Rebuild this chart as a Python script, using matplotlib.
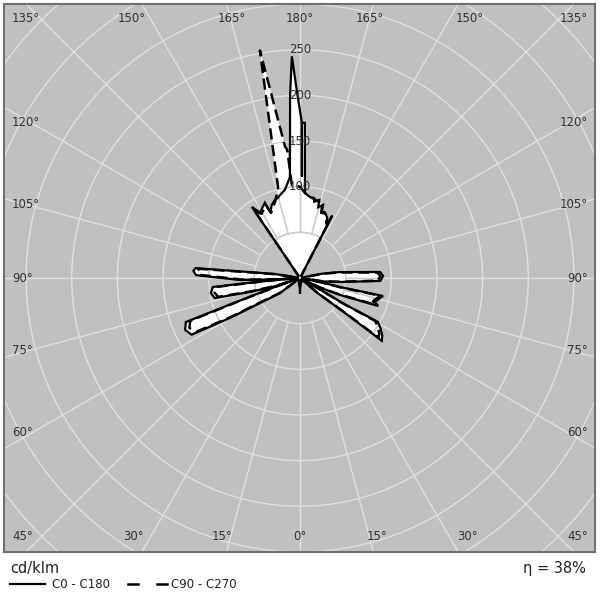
import numpy as np
import matplotlib.pyplot as plt
from matplotlib.patches import Circle, Polygon

# Luminous intensity, cd/klm, against gamma angle (0 = straight down)
# C0 plane (right half)
c0_gamma = [0, 3, 20, 45, 49, 49.5, 52.1, 52.5, 55, 58, 60.6, 59.5, 60, 61,
            64, 64.5, 67, 70.3, 72.3, 77.8, 77.3, 78.5, 80,
            82, 81.5, 84.3, 87.9, 91.4, 94.3, 98.5, 101, 102,
            150, 152.2, 152.7, 153.0, 156.1, 159.3, 161.6, 162.5, 165.6, 166.1,
            169.4, 170.2, 173.0, 176.6, 177.2, 178.2, 179.3, 178.9, 179.3]
c0_cd = [16, 4, 2, 3, 3, 25, 62, 113, 110, 104, 98, 55, 28, 3,
         3, 25, 47, 91, 86, 93, 45, 25, 3,
         3, 25, 44, 88, 91, 88, 44, 25, 3,
         3, 5, 77, 65, 73, 77, 76, 84, 80, 88,
         85, 89, 89.5, 93, 111, 170, 170, 111, 170]

# C180 plane (left half)
c180_gamma = [0, 3, 40, 52, 53, 58, 60.3, 62.4, 65.7, 68.9, 69.3, 70.5, 71,
              72, 71.5, 74.4, 76.8, 80.4, 84.1, 84.6, 85.5, 86,
              86.5, 86.8, 88.1, 91.6, 93.8, 95.4, 96.5, 99, 100,
              145, 145.9, 148.4, 155.0, 155.6, 159.0, 162.2, 164.6, 166.5, 170.3,
              174.3, 176.9, 177.9, 179.1]
c180_cd = [16, 4, 3, 3, 28, 52, 88, 134, 138, 134, 80, 28, 3,
           3, 28, 57, 96, 99, 96, 55, 25, 3,
           3, 28, 66, 114, 117, 115, 60, 28, 3,
           3, 94, 84, 91, 79, 86, 90, 91, 93.5, 98,
           111, 201, 243, 203]

# C90 plane (right half)
c90_gamma = [0, 30, 49, 49.5, 52.3, 52.8, 55, 58, 60.3, 59.3, 59.8, 60.8,
             64, 64.8, 67.3, 70.5, 72.5, 77.5, 77, 78.3, 79.5,
             81.5, 81.8, 84.5, 88, 91.4, 94, 98.2, 100.5, 101.5,
             150, 152.7, 154, 156.5, 159, 162, 163, 166, 170, 174, 177, 180]
c90_cd = [10, 3, 3, 25, 60, 108, 106, 100, 95, 53, 27, 3,
          3, 25, 46, 88, 84, 90, 44, 25, 3,
          3, 25, 43, 85, 88, 85, 43, 25, 3,
          3, 74, 66, 72, 76, 75, 83, 86, 88, 90, 94, 100]

# C270 plane (left half)
c270_gamma = [0, 40, 52.5, 53.3, 58.3, 60.5, 62.6, 65.7, 68.7, 69.1, 70.2, 70.7,
              71.5, 71.8, 74.7, 77, 80.4, 83.9, 84.4, 85.3, 85.8,
              86.5, 87, 88.3, 91.8, 93.8, 95.2, 96.3, 98.8, 99.8,
              145, 146, 149, 155, 156, 162, 166.4, 170.0, 173.5, 174.3, 175, 180]
c270_cd = [10, 3, 3, 27, 50, 85, 128, 133, 129, 78, 27, 3,
           3, 27, 55, 92, 95, 92, 53, 25, 3,
           3, 27, 63, 110, 113, 111, 58, 27, 3,
           3, 90, 82, 88, 78, 88, 102, 253, 145, 141, 102, 100]

ring_values = [50, 100, 150, 200, 250, 300, 350, 400, 450]
ring_labels = [100, 150, 200, 250]
spoke_angles = np.arange(0, 360, 15)

efficiency = 38

BG = '#c0c0c0'
GRID = '#e0e0e0'
GRID_IN = '#cccccc'
TXT = '#333333'


def to_xy(gamma, cd, side):
    g = np.radians(np.asarray(gamma, dtype=float))
    cd = np.asarray(cd, dtype=float)
    return side * cd * np.sin(g), -cd * np.cos(g)


def closed_curve(g_right, i_right, g_left, i_left):
    xr, yr = to_xy(g_right, i_right, 1)
    xl, yl = to_xy(g_left[::-1], i_left[::-1], -1)
    return np.column_stack([np.concatenate([xr, xl]), np.concatenate([yr, yl])])


fig = plt.figure(figsize=(6, 6), dpi=100)
# plot box in pixels: x 4..595, y 4..552 ; centre at (300, 278), 0.913 px per cd/klm
S = 0.913
ax = fig.add_axes([4 / 600, 48 / 600, 591 / 600, 548 / 600])
ax.set_xlim(-(300 - 4) / S, (595 - 300) / S)
ax.set_ylim(-(552 - 278) / S, (278 - 4) / S)
ax.set_facecolor(BG)
ax.set_xticks([])
ax.set_yticks([])
for sp in ax.spines.values():
    sp.set_color('#707070')
    sp.set_linewidth(1.5)


def draw_grid(color, zorder, clip=None):
    arts = []
    for r in ring_values:
        c = Circle((0, 0), r, fill=False, ec=color, lw=1.0, zorder=zorder)
        ax.add_patch(c)
        arts.append(c)
    for a in spoke_angles:
        t = np.radians(a)
        ln, = ax.plot([50 * np.sin(t), 600 * np.sin(t)], [-50 * np.cos(t), -600 * np.cos(t)],
                      color=color, lw=1.0, zorder=zorder)
        arts.append(ln)
    if clip is not None:
        for art in arts:
            art.set_clip_path(clip)


draw_grid(GRID, 1)

solid = closed_curve(c0_gamma, c0_cd, c180_gamma, c180_cd)
dashed = closed_curve(c90_gamma, c90_cd, c270_gamma, c270_cd)

for pts in (solid, dashed):
    poly = Polygon(pts, closed=True, fc='white', ec='none', zorder=2)
    ax.add_patch(poly)
    draw_grid(GRID_IN, 3, clip=poly)

sx = np.append(solid[:, 0], solid[0, 0])
sy = np.append(solid[:, 1], solid[0, 1])
dx = np.append(dashed[:, 0], dashed[0, 0])
dy = np.append(dashed[:, 1], dashed[0, 1])
ax.plot(sx, sy, color='black', lw=1.6, solid_joinstyle='miter', zorder=4)
ax.plot(dx, dy, color='black', lw=1.8, linestyle=(0, (4.5, 2.2)), zorder=5)

for v in ring_labels:
    ax.text(0, v, str(v), ha='center', va='center', fontsize=8.5, color=TXT, zorder=6)

# gamma labels around the frame (pixel positions)
top = [('135°', 12, 'left'), ('150°', 132, 'center'), ('165°', 232, 'center'),
       ('180°', 300, 'center'), ('165°', 370, 'center'), ('150°', 470, 'center'),
       ('135°', 588, 'right')]
bottom = [('45°', 12, 'left'), ('30°', 133, 'center'), ('15°', 222, 'center'),
          ('0°', 300, 'center'), ('15°', 377, 'center'), ('30°', 467, 'center'),
          ('45°', 588, 'right')]
side = [('120°', 122), ('105°', 205), ('90°', 278), ('75°', 350), ('60°', 433)]

for t, px, ha in top:
    fig.text(px / 600, 1 - 18 / 600, t, ha=ha, va='center', fontsize=8.5, color=TXT)
for t, px, ha in bottom:
    fig.text(px / 600, 1 - 537 / 600, t, ha=ha, va='center', fontsize=8.5, color=TXT)
for t, py in side:
    fig.text(12 / 600, 1 - py / 600, t, ha='left', va='center', fontsize=8.5, color=TXT)
    fig.text(588 / 600, 1 - py / 600, t, ha='right', va='center', fontsize=8.5, color=TXT)

# units, legend and efficiency
fig.text(10 / 600, 1 - 569 / 600, 'cd/klm', ha='left', va='center', fontsize=10.5, color='#222222')
fig.text(586 / 600, 1 - 569 / 600, f'η = {efficiency}%', ha='right', va='center',
         fontsize=10.5, color='#222222')
ly = 1 - 584 / 600
fig.add_artist(plt.Line2D([10 / 600, 45 / 600], [ly, ly], color='black', lw=1.6))
fig.text(52 / 600, ly, 'C0 - C180', ha='left', va='center', fontsize=8.5, color='#222222')
fig.add_artist(plt.Line2D([128 / 600, 138 / 600], [ly, ly], color='black', lw=1.8))
fig.add_artist(plt.Line2D([157 / 600, 167 / 600], [ly, ly], color='black', lw=1.8))
fig.text(171 / 600, ly, 'C90 - C270', ha='left', va='center', fontsize=8.5, color='#222222')

fig.savefig('out.png', dpi=100, facecolor='white')
